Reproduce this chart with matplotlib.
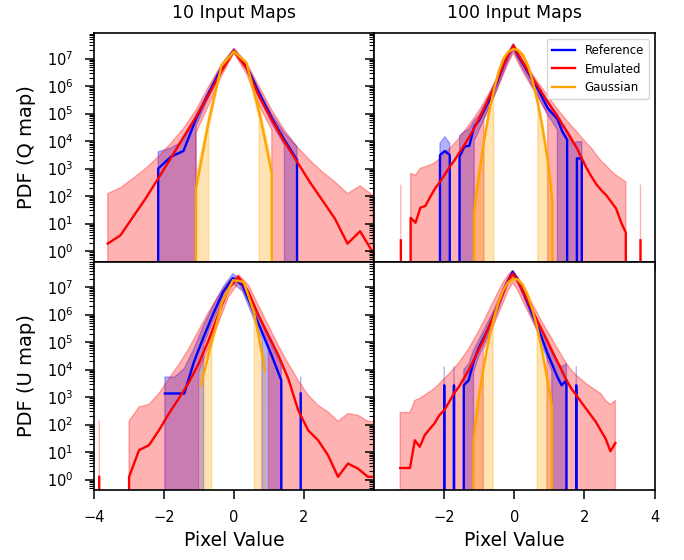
import numpy as np
import matplotlib
matplotlib.use("Agg")
import matplotlib.pyplot as plt
from matplotlib.ticker import LogLocator, NullFormatter, FixedLocator

# Values are log10(PDF); Z marks an empty bin (PDF = 0)
Z = None

# ---------------- Q map, 10 input maps ----------------
q10_x = np.linspace(-3.6, 3.96, 22)
q10_ref = [Z, Z, Z, Z, 3.0, 3.43, 3.64, 4.81, 5.74, 6.65, 7.29, 6.72, 5.74, 4.83, 4.04, 3.31, Z, Z, Z, Z, Z, Z]
q10_ref_hi = [Z, Z, Z, Z, 3.61, 3.75, 4.0, 4.95, 5.85, 6.75, 7.36, 6.8, 5.85, 4.98, 4.3, 3.8, Z, Z, Z, Z, Z, Z]
q10_ref_lo = [Z, Z, Z, Z, Z, Z, Z, 4.55, 5.6, 6.55, 7.22, 6.6, 5.6, 4.65, 3.85, Z, Z, Z, Z, Z, Z, Z]
q10_emu = [0.27, 0.57, 1.24, 1.91, 2.64, 3.38, 4.14, 4.88, 5.68, 6.53, 7.29, 6.65, 5.62, 4.77, 3.98, 3.25,
           2.52, 1.85, 1.18, 0.27, 0.72, -0.04]
q10_emu_hi = [2.09, 2.30, 2.64, 3.00, 3.43, 3.92, 4.46, 5.13, 5.99, 6.78, 7.38, 6.84, 5.99, 5.13, 4.40, 3.80,
              3.31, 2.88, 2.52, 2.09, 2.37, 2.03]
q10_emu_lo = [Z, Z, Z, Z, Z, Z, Z, 4.3, 5.3, 6.35, 7.2, 6.45, 5.3, 4.4, Z, Z, Z, Z, Z, Z, Z, Z]
q10_gau = [Z, Z, Z, Z, Z, Z, Z, 2.27, 4.71, 6.72, 7.26, 6.84, 5.07, 2.82, Z, Z, Z, Z, Z, Z, Z, Z]
q10_gau_hi = [Z, Z, Z, Z, Z, Z, Z, 2.7, 4.9, 6.8, 7.32, 6.9, 5.3, 3.2, Z, Z, Z, Z, Z, Z, Z, Z]
q10_gau_lo = [Z, Z, Z, Z, Z, Z, Z, Z, 4.45, 6.62, 7.2, 6.75, 4.8, Z, Z, Z, Z, Z, Z, Z, Z, Z]

# ---------------- Q map, 100 input maps ----------------
q100_x = np.linspace(-3.238, 3.598, 50)
q100_emu = [0.39, Z, 1.21, 1.03, 1.58, 1.64, 1.97, 2.28, 2.52, 2.79,
            3.07, 3.31, 3.59, 3.86, 4.16, 4.47, 4.81, 5.17, 5.56, 5.93,
            6.35, 6.78, 7.14, 7.48, 7.14, 6.84, 6.56, 6.27, 5.99, 5.71,
            5.44, 5.17, 4.89, 4.61, 4.34, 4.04, 3.74, 3.37, 3.01, 2.70,
            2.42, 2.21, 2.03, 1.79, 1.55, 1.06, 0.67, Z, Z, 0.39]
q100_emu_hi = [2.40, Z, 2.82, 2.76, 3.01, 3.07, 3.13, 3.22, 3.37, 3.55,
               3.74, 3.92, 4.12, 4.37, 4.61, 4.85, 5.12, 5.41, 5.73, 6.07,
               6.44, 6.83, 7.20, 7.53, 7.26, 6.96, 6.68, 6.41, 6.14, 5.90,
               5.66, 5.41, 5.17, 4.95, 4.73, 4.53, 4.34, 4.12, 3.92, 3.74,
               3.49, 3.27, 3.10, 2.91, 2.76, 2.64, 2.52, Z, Z, 2.40]
q100_emu_lo = [Z, Z, Z, Z, Z, Z, Z, Z, Z, Z,
               Z, Z, Z, Z, Z, Z, Z, 4.8, 5.2, 5.6,
               6.0, 6.45, 6.85, 7.2, 6.85, 6.5, 6.2, 5.9, 5.6, 5.3,
               5.0, Z, Z, Z, Z, Z, Z, Z, Z, Z,
               Z, Z, Z, Z, Z, Z, Z, Z, Z, Z]
q100_ref = [Z, Z, Z, Z, Z, Z, Z, Z, 3.49, 3.64,
            3.49, Z, 3.43, 3.80, 3.83, 4.53, 4.75, 5.1, 5.45, 5.85,
            6.3, 6.75, 7.15, 7.45, 7.1, 6.8, 6.5, 6.2, 5.9, 5.55,
            5.2, 5.0, 4.8, 4.35, 4.05, Z, 3.37, 3.37, Z, Z,
            Z, Z, Z, Z, Z, Z, Z, Z, Z, Z]
q100_ref_hi = [Z, Z, Z, Z, Z, Z, Z, Z, 3.92, 4.16,
               3.92, Z, 4.2, 4.35, 4.45, 4.75, 4.95, 5.3, 5.65, 6.05,
               6.45, 6.9, 7.25, 7.55, 7.2, 6.9, 6.62, 6.33, 6.05, 5.72,
               5.4, 5.2, 5.0, 4.65, 4.35, 3.9, 3.98, 3.98, Z, Z,
               Z, Z, Z, Z, Z, Z, Z, Z, Z, Z]
q100_ref_lo = [Z, Z, Z, Z, Z, Z, Z, Z, Z, Z,
               Z, Z, Z, Z, Z, 4.0, 4.4, 4.8, 5.2, 5.6,
               6.05, 6.5, 6.95, 7.3, 6.95, 6.6, 6.3, 5.95, 5.65, 5.3,
               4.95, 4.7, 4.4, Z, Z, Z, Z, Z, Z, Z,
               Z, Z, Z, Z, Z, Z, Z, Z, Z, Z]
q100_gau = [Z, Z, Z, Z, Z, Z, Z, Z, Z, Z,
            Z, Z, Z, Z, Z, 1.42, 2.78, 3.98, 5.01, 5.85,
            6.52, 7.0, 7.25, 7.35, 7.3, 7.12, 6.74, 6.16, 5.39, 4.44,
            3.31, 1.79, Z, Z, Z, Z, Z, Z, Z, Z,
            Z, Z, Z, Z, Z, Z, Z, Z, Z, Z]
q100_gau_hi = [Z, Z, Z, Z, Z, Z, Z, Z, Z, Z,
               Z, Z, Z, Z, Z, 1.9, 3.05, 4.15, 5.15, 5.95,
               6.6, 7.05, 7.3, 7.4, 7.35, 7.18, 6.82, 6.28, 5.55, 4.65,
               3.6, 2.3, Z, Z, Z, Z, Z, Z, Z, Z,
               Z, Z, Z, Z, Z, Z, Z, Z, Z, Z]
q100_gau_lo = [Z, Z, Z, Z, Z, Z, Z, Z, Z, Z,
               Z, Z, Z, Z, Z, Z, Z, Z, Z, 5.7,
               6.42, 6.93, 7.2, 7.3, 7.25, 7.05, 6.65, 6.05, 5.2, Z,
               Z, Z, Z, Z, Z, Z, Z, Z, Z, Z,
               Z, Z, Z, Z, Z, Z, Z, Z, Z, Z]

# ---------------- U map, 10 input maps ----------------
u10_emu_x = np.linspace(-3.842, 4.104, 29)
u10_emu = [0.10, Z, Z, 0.10, 1.07, 1.25, 1.79, 2.40, 2.95, 3.53, 4.22, 5.07, 6.04, 6.95, 7.37, 6.82,
           5.98, 5.25, 4.52, 3.67, 2.52, 1.79, 1.43, 0.88, 0.10, 0.58, 0.40, 0.10, 0.10]
u10_emu_hi = [2.13, Z, Z, 2.12, 2.64, 2.73, 3.13, 3.67, 4.18, 4.76, 5.43, 6.10, 6.70, 7.21, 7.45, 7.07,
              6.34, 5.61, 4.88, 4.22, 3.61, 3.07, 2.70, 2.46, 2.12, 2.40, 2.34, 2.12, 2.10]
u10_emu_lo = [Z, Z, Z, Z, Z, Z, Z, Z, Z, Z, 3.9, 4.8, 5.7, 6.65, 7.15, 6.5, 5.65, 4.9,
              Z, Z, Z, Z, Z, Z, Z, Z, Z, Z, Z]
u10_ref_x = np.linspace(-1.971, 1.905, 15)
u10_ref = [3.13, 3.13, 3.13, 4.28, 5.19, 6.04, 6.82, 7.33, 7.07, 6.22, 5.37, 4.52, 3.61, Z, 3.13]
u10_ref_hi = [3.73, 3.73, 4.04, 4.76, 5.61, 6.34, 7.0, 7.49, 7.25, 6.46, 5.67, 4.88, 4.16, Z, 3.73]
u10_ref_lo = [Z, Z, Z, Z, 4.9, 5.8, 6.6, 7.15, 6.85, 6.0, 5.1, Z, Z, Z, Z]
u10_gau_x = np.linspace(-0.94, 0.886, 7)
u10_gau = [3.43, 5.0, 6.46, 7.25, 7.19, 6.04, 3.97]
u10_gau_hi = [3.9, 5.2, 6.55, 7.32, 7.27, 6.2, 4.4]
u10_gau_lo = [Z, 4.8, 6.35, 7.18, 7.1, 5.85, Z]

# ---------------- U map, 100 input maps ----------------
u100_x = np.linspace(-3.257, 2.881, 45)
u100_emu = [0.42, 0.42, 0.42, 1.43, 1.19, 1.61, 1.83, 2.04, 2.34, 2.52,
            2.82, 3.13, 3.37, 3.67, 3.98, 4.34, 4.70, 5.07, 5.49, 5.91,
            6.34, 6.76, 7.19, 7.49, 7.25, 6.88, 6.52, 6.16, 5.79, 5.43,
            5.07, 4.70, 4.34, 3.98, 3.61, 3.31, 3.07, 2.82, 2.58, 2.34,
            2.10, 1.79, 1.49, 1.03, 1.33]
u100_emu_hi = [2.44, 2.44, 2.44, 2.88, 2.95, 3.07, 3.19, 3.31, 3.49, 3.67,
               3.85, 4.04, 4.25, 4.50, 4.76, 5.07, 5.39, 5.73, 6.10, 6.46,
               6.82, 7.16, 7.43, 7.61, 7.37, 7.07, 6.73, 6.40, 6.07, 5.73,
               5.43, 5.13, 4.82, 4.52, 4.22, 3.98, 3.79, 3.65, 3.49, 3.37,
               3.25, 3.13, 2.88, 2.73, 2.88]
u100_emu_lo = [Z, Z, Z, Z, Z, Z, Z, Z, Z, Z,
               Z, Z, Z, Z, Z, Z, Z, 4.7, 5.15, 5.55,
               6.0, 6.4, 6.85, 7.15, 6.9, 6.5, 6.15, 5.8, 5.45, 5.1,
               4.7, Z, Z, Z, Z, Z, Z, Z, Z, Z,
               Z, Z, Z, Z, Z]
u100_ref = [Z, Z, Z, Z, Z, Z, Z, Z, Z, 3.43,
            Z, 3.43, Z, 3.43, 3.61, 4.28, 4.76, 5.13, 5.49, 5.91,
            6.34, 6.82, 7.21, 7.55, 7.28, 6.88, 6.46, 6.04, 5.61, 5.13,
            4.64, 4.22, 3.79, 3.43, 3.61, Z, 3.43, Z, Z, Z,
            Z, Z, Z, Z, Z]
u100_ref_hi = [Z, Z, Z, Z, Z, Z, Z, Z, Z, 4.10,
               Z, 4.10, Z, 4.0, 4.2, 4.7, 5.05, 5.4, 5.75, 6.1,
               6.5, 6.95, 7.3, 7.6, 7.35, 7.0, 6.6, 6.2, 5.8, 5.4,
               4.95, 4.6, 4.3, 4.1, 4.22, Z, 4.10, Z, Z, Z,
               Z, Z, Z, Z, Z]
u100_ref_lo = [Z, Z, Z, Z, Z, Z, Z, Z, Z, Z,
               Z, Z, Z, Z, Z, 3.9, 4.45, 4.85, 5.25, 5.7,
               6.15, 6.65, 7.1, 7.4, 7.15, 6.75, 6.3, 5.85, 5.4, 4.9,
               4.4, 3.95, Z, Z, Z, Z, Z, Z, Z, Z,
               Z, Z, Z, Z, Z]
u100_gau = [Z, Z, Z, Z, Z, Z, Z, Z, Z, Z,
            Z, Z, Z, Z, Z, 1.43, 2.90, 4.01, 4.97, 5.76,
            6.39, 6.86, 7.16, 7.30, 7.28, 7.09, 6.74, 6.22, 5.55, 4.70,
            3.70, 2.70, Z, Z, Z, Z, Z, Z, Z, Z,
            Z, Z, Z, Z, Z]
u100_gau_hi = [Z, Z, Z, Z, Z, Z, Z, Z, Z, Z,
               Z, Z, Z, Z, Z, 1.95, 3.15, 4.2, 5.12, 5.88,
               6.47, 6.92, 7.22, 7.36, 7.34, 7.16, 6.82, 6.32, 5.7, 4.9,
               3.95, 3.05, Z, Z, Z, Z, Z, Z, Z, Z,
               Z, Z, Z, Z, Z]
u100_gau_lo = [Z, Z, Z, Z, Z, Z, Z, Z, Z, Z,
               Z, Z, Z, Z, Z, Z, Z, Z, Z, 5.62,
               6.3, 6.8, 7.1, 7.24, 7.22, 7.02, 6.65, 6.1, 5.4, Z,
               Z, Z, Z, Z, Z, Z, Z, Z, Z, Z,
               Z, Z, Z, Z, Z]

series_labels = ["Reference", "Emulated", "Gaussian"]
series_colors = ["blue", "red", "orange"]
col_titles = ["10 Input Maps", "100 Input Maps"]
row_labels = ["PDF (Q map)", "PDF (U map)"]
y_decades = [1e0, 1e1, 1e2, 1e3, 1e4, 1e5, 1e6, 1e7]


def pdf(vals):
    return np.array([0.0 if v is None else 10.0 ** v for v in vals])


plt.rcParams["axes.linewidth"] = 1.2

fig, axes = plt.subplots(2, 2, figsize=(6.84, 5.6), dpi=100, sharey=True)
fig.subplots_adjust(left=0.137, right=0.957, top=0.941, bottom=0.125, wspace=0, hspace=0)

panels = [
    (axes[0, 0], [(q10_x, q10_ref, q10_ref_lo, q10_ref_hi),
                  (q10_x, q10_emu, q10_emu_lo, q10_emu_hi),
                  (q10_x, q10_gau, q10_gau_lo, q10_gau_hi)]),
    (axes[0, 1], [(q100_x, q100_ref, q100_ref_lo, q100_ref_hi),
                  (q100_x, q100_emu, q100_emu_lo, q100_emu_hi),
                  (q100_x, q100_gau, q100_gau_lo, q100_gau_hi)]),
    (axes[1, 0], [(u10_ref_x, u10_ref, u10_ref_lo, u10_ref_hi),
                  (u10_emu_x, u10_emu, u10_emu_lo, u10_emu_hi),
                  (u10_gau_x, u10_gau, u10_gau_lo, u10_gau_hi)]),
    (axes[1, 1], [(u100_x, u100_ref, u100_ref_lo, u100_ref_hi),
                  (u100_x, u100_emu, u100_emu_lo, u100_emu_hi),
                  (u100_x, u100_gau, u100_gau_lo, u100_gau_hi)]),
]

for ax, series in panels:
    ax.set_yscale("log")
    for (x, y, lo, hi), c in zip(series, series_colors):
        ax.fill_between(x, pdf(lo), pdf(hi), color=c, alpha=0.3)
    for (x, y, lo, hi), c, lab in zip(series, series_colors, series_labels):
        ax.plot(x, pdf(y), color=c, lw=1.7, label=lab)
    ax.set_xlim(-4, 4)
    ax.yaxis.set_major_locator(FixedLocator(y_decades))
    ax.yaxis.set_minor_locator(LogLocator(base=10, subs=np.arange(2, 10), numticks=20))
    ax.yaxis.set_minor_formatter(NullFormatter())
    ax.tick_params(which="major", length=6.5, width=1.1, pad=8, labelsize=10.5)
    ax.tick_params(which="minor", length=3.5, width=0.8)

axes[0, 0].set_ylim(10 ** -0.38, 10 ** 7.93)

for r in range(2):
    axes[r, 0].set_xticks([-4, -2, 0, 2])
    axes[r, 1].set_xticks([-2, 0, 2, 4])
    axes[r, 0].set_ylabel(row_labels[r], fontsize=14, labelpad=8)
for c in range(2):
    axes[0, c].set_title(col_titles[c], fontsize=12.5, pad=11)
    axes[0, c].tick_params(labelbottom=False)
    axes[1, c].set_xlabel("Pixel Value", fontsize=13.5, labelpad=4)

axes[0, 1].legend(loc="upper right", fontsize=8.5)

fig.savefig("out.png", dpi=100)
